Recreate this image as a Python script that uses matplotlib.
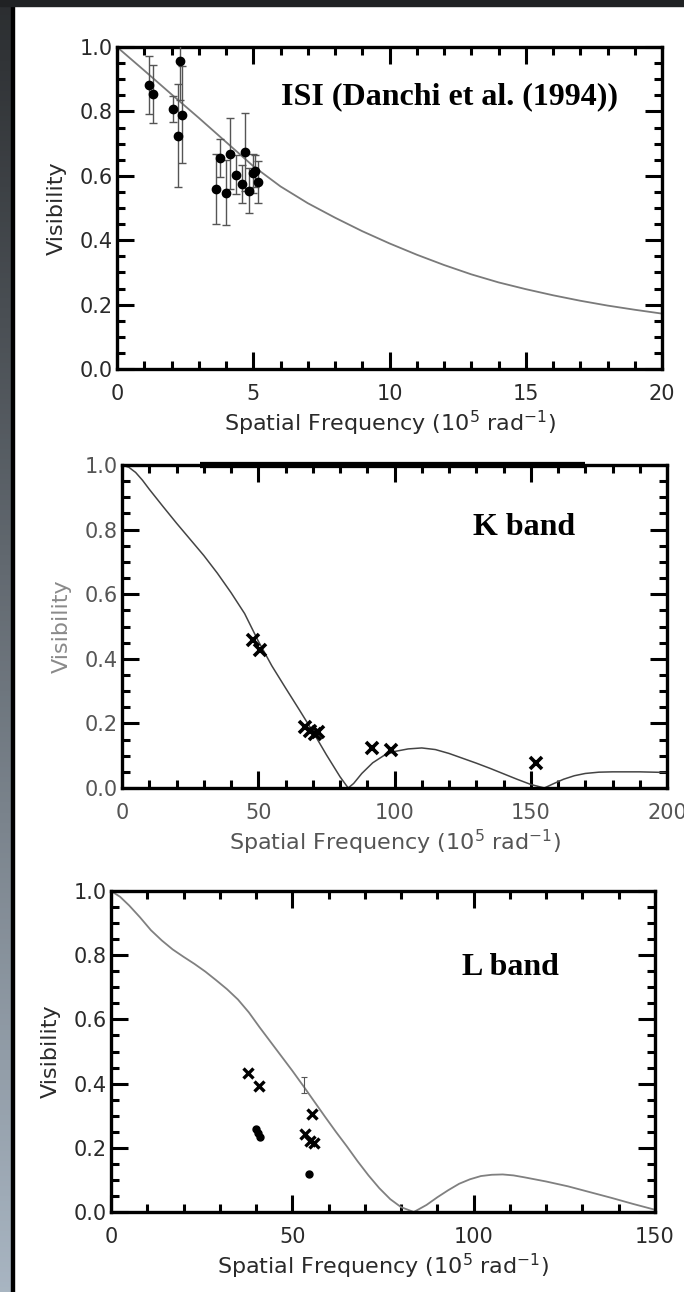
import numpy as np
import matplotlib
matplotlib.use("Agg")
import matplotlib.pyplot as plt
from matplotlib.ticker import MultipleLocator, FormatStrFormatter

plt.rcParams['font.family'] = ['DejaVu Sans']

# ---------------- data ----------------
# Panel 1: ISI (Danchi et al. 1994)
isi_freq = [1.17, 1.32, 2.06, 2.25, 2.33, 2.37, 3.62, 3.79, 4.01, 4.16, 4.35,
            4.57, 4.69, 4.84, 4.98, 5.07, 5.16]
isi_vis = [0.883, 0.854, 0.807, 0.725, 0.955, 0.790, 0.559, 0.655, 0.548, 0.668,
           0.604, 0.575, 0.674, 0.554, 0.608, 0.616, 0.580]
isi_err = [0.09, 0.09, 0.04, 0.16, 0.12, 0.15, 0.11, 0.06, 0.10, 0.11, 0.06,
           0.06, 0.12, 0.07, 0.06, 0.05, 0.065]
isi_model_freq = [0, 1, 2, 3, 4, 5, 6, 7, 8, 9, 10, 11, 12, 13, 14, 15, 16, 17, 18, 19, 20]
isi_model_vis = [1.0, 0.927, 0.853, 0.78, 0.705, 0.63, 0.567, 0.515, 0.47, 0.428, 0.39,
                 0.355, 0.323, 0.294, 0.269, 0.248, 0.229, 0.212, 0.197, 0.184, 0.172]

# Panel 2: K band
k_freq = [48.1, 50.8, 67.3, 68.9, 70.8, 71.8, 91.7, 98.6, 151.9]
k_vis = [0.458, 0.427, 0.190, 0.175, 0.168, 0.172, 0.124, 0.117, 0.078]
k_model_freq = [0, 2.5, 5, 7.5, 10, 15, 20, 25, 30, 35, 40, 45, 50, 55, 60, 65, 70, 75,
                80, 83, 85, 88, 92, 96, 100, 105, 110, 115, 120, 125, 130, 135, 140,
                145, 150, 155, 158, 162, 166, 170, 175, 180, 190, 200]
k_model_vis = [1.0, 0.993, 0.977, 0.953, 0.925, 0.872, 0.82, 0.77, 0.72, 0.665, 0.605,
               0.54, 0.455, 0.378, 0.31, 0.243, 0.175, 0.103, 0.035, 0.0, 0.014,
               0.045, 0.078, 0.1, 0.113, 0.121, 0.124, 0.119, 0.107, 0.092, 0.077,
               0.061, 0.044, 0.027, 0.011, 0.0, 0.012, 0.027, 0.038, 0.045, 0.049,
               0.05, 0.05, 0.048]

# Panel 3: L band
l_cross_freq = [37.8, 40.8, 55.4, 53.5, 55.0, 55.9]
l_cross_vis = [0.433, 0.393, 0.304, 0.242, 0.221, 0.216]
l_dot_freq = [39.9, 40.4, 41.2, 54.7]
l_dot_vis = [0.260, 0.247, 0.234, 0.117]
l_bar_freq = [53.3]
l_bar_vis = [0.395]
l_bar_err = [0.025]
l_model_freq = [0, 2.5, 5, 8, 11, 14, 17, 20, 23, 26, 29, 32, 35, 38, 41, 44, 47, 50,
                53, 56, 59, 62, 65, 68, 71, 74, 77, 80, 83.5, 87, 90, 93, 96, 99, 102,
                105, 108, 111, 114, 120, 126, 132, 138, 144, 150]
l_model_vis = [1.0, 0.982, 0.955, 0.918, 0.878, 0.846, 0.818, 0.795, 0.773, 0.749,
               0.722, 0.694, 0.662, 0.622, 0.575, 0.53, 0.485, 0.44, 0.393, 0.345,
               0.297, 0.25, 0.205, 0.158, 0.114, 0.074, 0.04, 0.015, 0.0, 0.022,
               0.046, 0.068, 0.088, 0.102, 0.112, 0.116, 0.117, 0.114, 0.108, 0.095,
               0.08, 0.062, 0.044, 0.025, 0.007]

xlabel_text = 'Spatial Frequency (10$^5$ rad$^{-1}$)'
ylabel_text = 'Visibility'

# ---------------- figure ----------------
W, H = 684, 1292
fig = plt.figure(figsize=(W / 100, H / 100), dpi=100)
fig.patch.set_facecolor('#ffffff')

# background decoration (dark frame + left gradient strip)
bg = fig.add_axes([0, 0, 1, 1], zorder=-10)
bg.set_xlim(0, W)
bg.set_ylim(H, 0)
bg.axis('off')
grad = np.linspace(0, 1, 256).reshape(-1, 1)
top_col = np.array([0.17, 0.18, 0.19])
bot_col = np.array([0.66, 0.71, 0.76])
img = top_col + grad[..., None] * (bot_col - top_col)
bg.imshow(img, extent=[0, 11, H, 0], aspect='auto')
bg.add_patch(plt.Rectangle((11, 0), 3, H, color='black'))
bg.add_patch(plt.Rectangle((0, 0), W, 6, color='#202224'))


def style_axes(ax, xmax, xmajor, xminor, labcol='#2a2a2a', ylabcol='#2a2a2a'):
    ax.set_xlim(0, xmax)
    ax.set_ylim(0, 1.0)
    ax.xaxis.set_major_locator(MultipleLocator(xmajor))
    ax.xaxis.set_minor_locator(MultipleLocator(xminor))
    ax.yaxis.set_major_locator(MultipleLocator(0.2))
    ax.yaxis.set_minor_locator(MultipleLocator(0.05))
    ax.tick_params(which='both', direction='in', top=True, right=True,
                   color='black', width=2.2)
    ax.tick_params(which='major', length=12)
    ax.tick_params(which='minor', length=6)
    ax.tick_params(axis='x', which='major', pad=11, labelsize=15, labelcolor=labcol)
    ax.tick_params(axis='y', which='major', pad=3, labelsize=15, labelcolor=labcol)
    ax.yaxis.set_major_formatter(FormatStrFormatter('%.1f'))
    for s in ax.spines.values():
        s.set_linewidth(2.4)
        s.set_color('black')
    ax.set_xlabel(xlabel_text, fontsize=16, color=labcol, labelpad=3)
    ax.set_ylabel(ylabel_text, fontsize=16, color=ylabcol, labelpad=9)
    ax.set_facecolor('white')


def fax(left, right, top, bottom):
    return fig.add_axes([left / W, 1 - bottom / H, (right - left) / W, (bottom - top) / H])


# Panel 1
ax1 = fax(117, 662, 47, 369)
ax1.plot(isi_model_freq, isi_model_vis, color='#7a7a7a', lw=1.3, zorder=2)
ax1.errorbar(isi_freq, isi_vis, yerr=isi_err, fmt='o', color='black', ms=6,
             ecolor='#555555', elinewidth=1.0, capsize=3, capthick=1.0, zorder=3)
style_axes(ax1, 20, 5, 1)
ax1.text(0.61, 0.845, 'ISI (Danchi et al. (1994))', transform=ax1.transAxes,
         ha='center', va='center', fontsize=23, fontweight='bold',
         family='Liberation Serif', color='black')

# Panel 2
ax2 = fax(122, 667, 465, 788)
ax2.plot(k_model_freq, k_model_vis, color='#444444', lw=1.1, zorder=2)
ax2.plot(k_freq, k_vis, 'x', color='black', ms=8, mew=2.6, zorder=3)
style_axes(ax2, 200, 50, 10, labcol='#555555', ylabcol='#8a8a8a')
ax2.plot([0.144, 0.85], [1.0, 1.0], transform=ax2.transAxes, color='black',
         lw=4.5, clip_on=False, zorder=5, solid_capstyle='butt')
ax2.text(0.738, 0.808, 'K band', transform=ax2.transAxes,
         ha='center', va='center', fontsize=23, fontweight='bold',
         family='Liberation Serif', color='black')

# Panel 3
ax3 = fax(111, 655, 891, 1212)
ax3.plot(l_model_freq, l_model_vis, color='#808080', lw=1.3, zorder=2)
ax3.plot(l_cross_freq, l_cross_vis, 'x', color='black', ms=7, mew=2.4, zorder=3)
ax3.plot(l_dot_freq, l_dot_vis, 'o', color='black', ms=5, zorder=3)
ax3.errorbar(l_bar_freq, l_bar_vis, yerr=l_bar_err, fmt='none', ecolor='#555555',
             elinewidth=0.8, capsize=2, capthick=0.8, zorder=3)
style_axes(ax3, 150, 50, 10)
ax3.text(0.735, 0.763, 'L band', transform=ax3.transAxes,
         ha='center', va='center', fontsize=23, fontweight='bold',
         family='Liberation Serif', color='black')

fig.savefig('out.png', dpi=100, facecolor=fig.get_facecolor())
